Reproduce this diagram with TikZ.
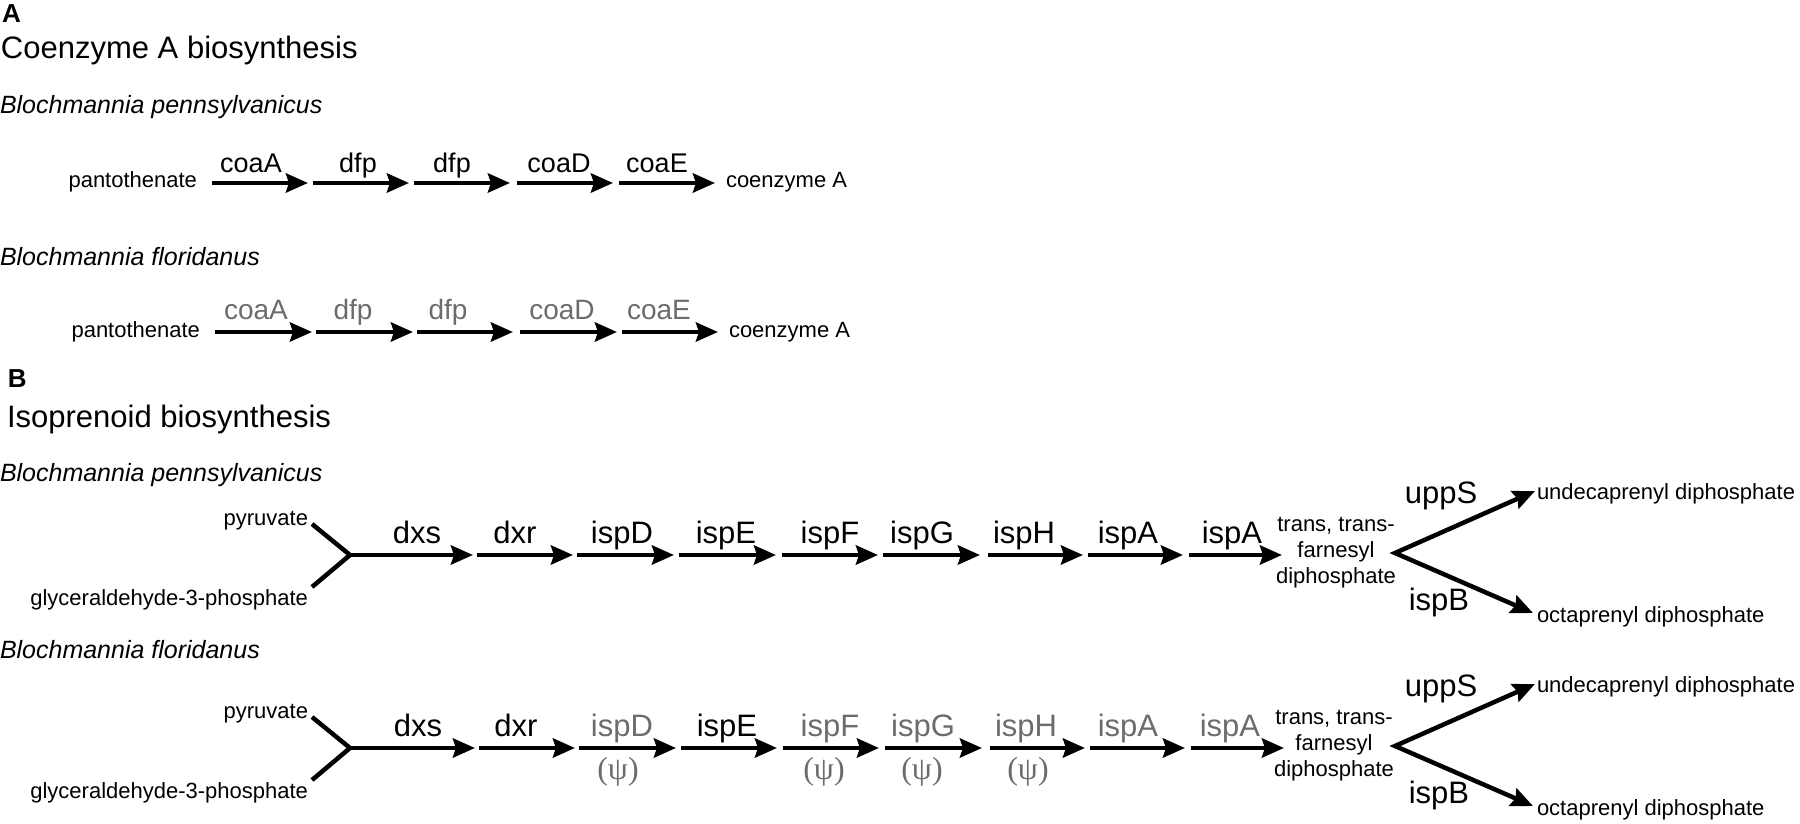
\documentclass[tikz,border=0pt]{standalone}
\usepackage{fontspec}
\setmainfont{Liberation Sans}
\newfontfamily\psifont{Liberation Serif}
\usetikzlibrary{arrows.meta}
\definecolor{lostgray}{RGB}{108,108,108}
\begin{document}
\begin{tikzpicture}[x=1pt,y=-1pt,line join=miter,
  every node/.style={inner sep=0pt,outer sep=0pt},
  rxn/.style={line width=4.5pt,-{Stealth[length=22pt,width=19pt,inset=3pt]}},
  fork/.style={line width=4.5pt,{Stealth[length=22pt,width=19pt,inset=3pt]}-{Stealth[length=22pt,width=19pt,inset=3pt]}},
  bar/.style={line width=4.5pt},
  small/.style={font=\fontsize{22}{26}\selectfont},
  heading/.style={font=\fontsize{31}{36}\selectfont},
  species/.style={font=\fontsize{25}{30}\selectfont\itshape},
  panel/.style={font=\fontsize{26}{30}\selectfont\bfseries},
  geneA/.style={font=\fontsize{27}{32}\selectfont},
  geneAlost/.style={font=\fontsize{28}{32}\selectfont,text=lostgray},
  geneB/.style={font=\fontsize{31}{36}\selectfont},
  geneBlost/.style={font=\fontsize{31}{36}\selectfont,text=lostgray},
  pseudo/.style={font=\fontsize{32}{36}\selectfont\psifont,text=lostgray}]
\useasboundingbox (0,0) rectangle (1800,824);

% ---------------- Panel A ----------------
\node[panel,anchor=base west] (labA) at (2,23) {A};
\node[heading,anchor=base west] (titA) at (1,59) {Coenzyme A biosynthesis};

% Row A1
\node[species,anchor=base west] (spA1) at (0,114) {Blochmannia pennsylvanicus};
\node[small,anchor=base east] (panA1) at (197,188) {pantothenate};
\node[small,anchor=base west] (coeA1) at (726,188) {coenzyme A};
\foreach \s/\e/\g/\c [count=\i] in {212/308/coaA/251,313/409/dfp/358,414/510/dfp/452,517/613/coaD/559,619/715/coaE/657}{
  \coordinate (a1s\i) at (\s,183);
  \coordinate (a1e\i) at (\e,183);
  \draw[rxn] (a1s\i) -- (a1e\i);
  \node[geneA,anchor=base] (a1g\i) at (\c,173) {\g};
}

% Row A2
\node[species,anchor=base west] (spA2) at (0,265) {Blochmannia floridanus};
\node[small,anchor=base east] (panA2) at (200,337) {pantothenate};
\node[small,anchor=base west] (coeA2) at (729,337) {coenzyme A};
\foreach \s/\e/\g/\c [count=\i] in {215/312/coaA/256,316/413/dfp/353,417/513/dfp/448,520/617/coaD/562,622/718/coaE/659}{
  \coordinate (a2s\i) at (\s,332);
  \coordinate (a2e\i) at (\e,332);
  \draw[rxn] (a2s\i) -- (a2e\i);
  \node[geneAlost,anchor=base] (a2g\i) at (\c,319) {\g};
}

% ---------------- Panel B ----------------
\node[panel,anchor=base west] (labB) at (8,387) {B};
\node[heading,anchor=base west] (titB) at (7,427) {Isoprenoid biosynthesis};

% Row B1
\node[species,anchor=base west] (spB1) at (0,481) {Blochmannia pennsylvanicus};
\node[small,anchor=base east] (pyr1) at (308,525) {pyruvate};
\node[small,anchor=base east] (gap1) at (308,605) {glyceraldehyde-3-phosphate};
\coordinate (pyr1e) at (312,524);
\coordinate (gap1e) at (312,587);
\coordinate (v1) at (350,555);
\draw[bar] (pyr1e) -- (v1) -- (gap1e);
\foreach \s/\e/\g/\c [count=\i] in {350/473/dxs/417,477/573/dxr/515,577/674/ispD/622,679/776/ispE/726,782/878/ispF/830,883/980/ispG/922,988/1083/ispH/1024,1088/1183/ispA/1128,1189/1282/ispA/1232}{
  \coordinate (b1s\i) at (\s,555);
  \coordinate (b1e\i) at (\e,555);
  \draw[rxn] (b1s\i) -- (b1e\i);
  \node[geneB,anchor=base] (b1g\i) at (\c,543) {\g};
}
\node[small,align=center] (fpp1) at (1336,553) {trans, trans-\\farnesyl\\diphosphate};
\coordinate (br1) at (1395,553);
\coordinate (up1) at (1535,491);
\coordinate (dn1) at (1533,613);
\draw[fork] (up1) -- (br1) -- (dn1);
\node[geneB,anchor=base] (upp1) at (1441,503) {uppS};
\node[geneB,anchor=base] (ispB1) at (1439,610) {ispB};
\node[small,anchor=base west] (und1) at (1537,499) {undecaprenyl diphosphate};
\node[small,anchor=base west] (oct1) at (1537,622) {octaprenyl diphosphate};

% Row B2
\node[species,anchor=base west] (spB2) at (0,658) {Blochmannia floridanus};
\node[small,anchor=base east] (pyr2) at (308,718) {pyruvate};
\node[small,anchor=base east] (gap2) at (308,798) {glyceraldehyde-3-phosphate};
\coordinate (pyr2e) at (312,717);
\coordinate (gap2e) at (312,780);
\coordinate (v2) at (350,748);
\draw[bar] (pyr2e) -- (v2) -- (gap2e);
\foreach \s/\e/\g/\c/\st [count=\i] in {350/475/dxs/418/geneB,479/575/dxr/516/geneB,579/676/ispD/622/geneBlost,681/777/ispE/727/geneB,783/879/ispF/830/geneBlost,885/982/ispG/923/geneBlost,990/1085/ispH/1026/geneBlost,1090/1185/ispA/1128/geneBlost,1191/1284/ispA/1230/geneBlost}{
  \coordinate (b2s\i) at (\s,748);
  \coordinate (b2e\i) at (\e,748);
  \draw[rxn] (b2s\i) -- (b2e\i);
  \node[\st,anchor=base] (b2g\i) at (\c,736) {\g};
}
\node[pseudo] (psiD) at (618,772) {(ψ)};
\node[pseudo] (psiF) at (824,772) {(ψ)};
\node[pseudo] (psiG) at (922,772) {(ψ)};
\node[pseudo] (psiH) at (1028,772) {(ψ)};
\node[small,align=center] (fpp2) at (1334,746) {trans, trans-\\farnesyl\\diphosphate};
\coordinate (br2) at (1395,746);
\coordinate (up2) at (1535,684);
\coordinate (dn2) at (1533,806);
\draw[fork] (up2) -- (br2) -- (dn2);
\node[geneB,anchor=base] (upp2) at (1441,696) {uppS};
\node[geneB,anchor=base] (ispB2) at (1439,803) {ispB};
\node[small,anchor=base west] (und2) at (1537,692) {undecaprenyl diphosphate};
\node[small,anchor=base west] (oct2) at (1537,815) {octaprenyl diphosphate};
\end{tikzpicture}
\end{document}
